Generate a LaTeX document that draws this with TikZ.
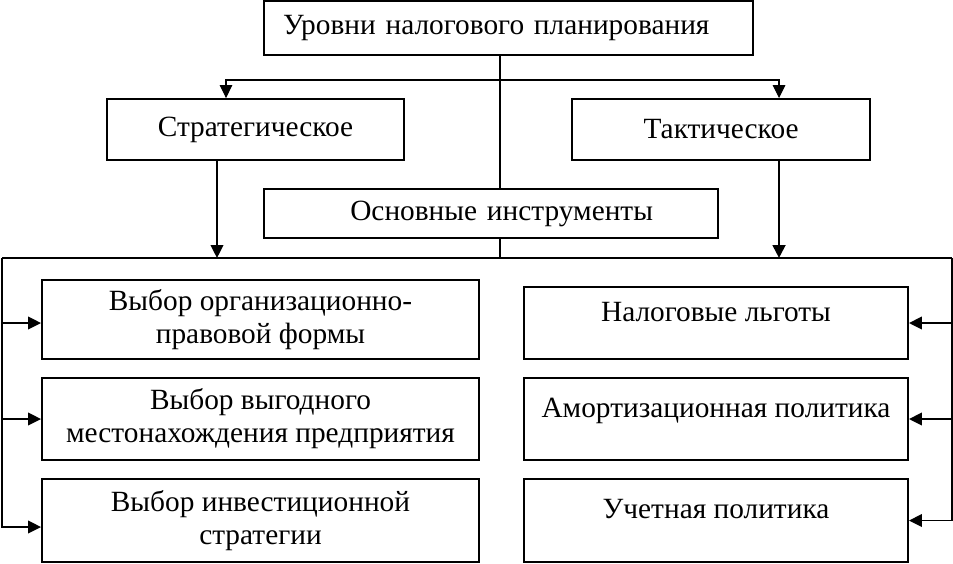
\documentclass[tikz,border=0pt]{standalone}
\usepackage{fontspec}
\setmainfont{Liberation Serif}
\usetikzlibrary{arrows.meta}

\begin{document}
\begin{tikzpicture}[x=0.2mm, y=-0.2mm, >={Triangle[length=7.4pt, width=7.2pt]},
    font=\fontsize{16.7}{18.8}\selectfont,
    box/.style={draw, line width=1.1pt, inner sep=0pt, align=center},
    rbox/.style={box, minimum width=7.68cm, text height=0.7em, text depth=0.88em},
    lbox/.style={box, minimum width=8.74cm},
    link/.style={line width=1pt}]

    % Рамка рисунка
    \useasboundingbox (0,0) rectangle (953,563);

    % Уровни планирования
    \node[box, minimum width=9.78cm, minimum height=1.08cm, inner xsep=0.38cm, text width=9.02cm, align=left] (levels) at (508.5,28) {Уровни налогового планирования};
    \node[box, minimum width=5.94cm, minimum height=1.22cm] (strat) at (255.5,129.5) {Стратегическое};
    \node[box, minimum width=5.96cm, minimum height=1.22cm] (tact) at (721,129.5) {Тактическое};
    \node[box, minimum width=9.08cm, minimum height=0.98cm, inner xsep=1.3cm, text width=6.48cm, align=right] (tools) at (491,213.5) {Основные инструменты};

    % Инструменты слева
    \node[lbox, minimum height=1.58cm] (l1) at (260.5,319.5) {Выбор организационно-\\правовой формы};
    \node[lbox, minimum height=1.64cm] (l2) at (260.5,419) {Выбор выгодного\\местонахождения предприятия};
    \node[lbox, minimum height=1.66cm] (l3) at (260.5,520.5) {Выбор инвестиционной\\стратегии};

    % Инструменты справа
    \node[rbox, minimum height=1.44cm] (r1) at (716,323) {Налоговые льготы};
    \node[rbox, minimum height=1.64cm] (r2) at (716,419) {Амортизационная политика};
    \node[rbox, minimum height=1.66cm] (r3) at (716,520.5) {Учетная политика};

    % Связи
    \coordinate (split) at (500,80);
    \coordinate (busl) at (2,258);
    \coordinate (busr) at (952,258);

    \draw[link] (levels.south -| split) -- (tools.north -| split);
    \draw[link] (tools.south -| split) -- (split |- busl);
    \draw[line width=0.6pt, ->] (split) -| ([xshift=-0.59cm]strat.north);
    \draw[line width=0.6pt, ->] (split) -| ([xshift=1.16cm]tact.north);

    \draw[link, ->] ([xshift=-0.77cm]strat.south) -- ([xshift=-0.77cm]strat.south |- busl);
    \draw[line width=1.6pt, ->] ([xshift=1.16cm]tact.south) -- ([xshift=1.16cm]tact.south |- busl);
    \draw[link] (busl) -- (busr);

    \draw[link, ->] (busl) |- ([yshift=-0.07cm]l1.west);
    \draw[link, ->] (busl) |- (l2.west);
    \draw[link, ->] (busl) |- ([yshift=-0.13cm]l3.west);

    \draw[link, ->] (busr) |- (r1.east);
    \draw[link, ->] (busr) |- (r2.east);
    \draw[link, ->] (busr) |- (r3.east);

\end{tikzpicture}
\end{document}
